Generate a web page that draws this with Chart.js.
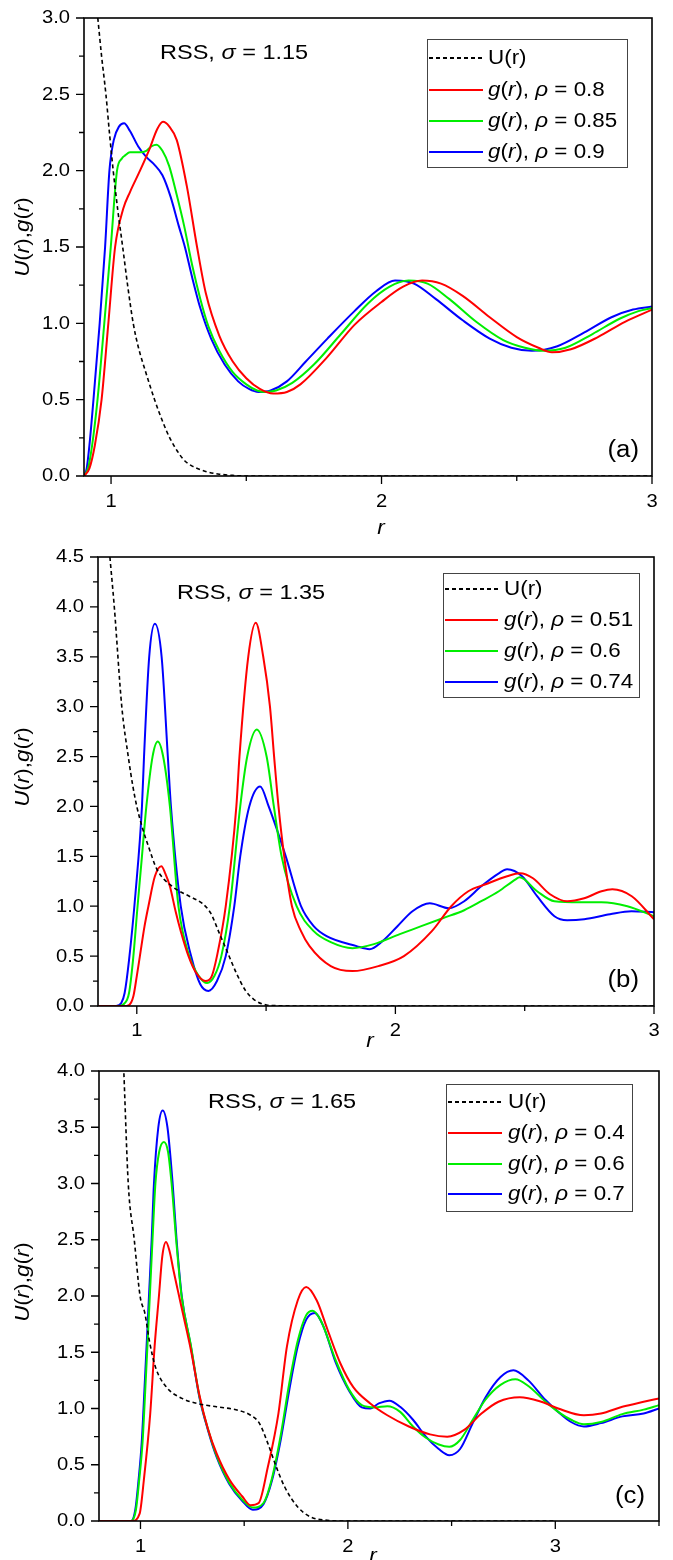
<!DOCTYPE html>
<html><head><meta charset="utf-8">
<script src="https://cdn.jsdelivr.net/npm/chart.js@4.4.1/dist/chart.umd.min.js"></script>
<style>
html,body{margin:0;padding:0;background:#fff;}
body{width:673px;height:1560px;position:relative;overflow:hidden;}
canvas{position:absolute;left:0;}
</style></head><body>
<canvas id="ca"></canvas>
<canvas id="cb"></canvas>
<canvas id="cc"></canvas>
<script>
// ---------- Panel (a): sigma = 1.15 ----------
const aXTicks = [1, 2, 3];
const aYTicks = [0, 0.5, 1.0, 1.5, 2.0, 2.5, 3.0];
const aLegend = ["U(r)", "0.8", "0.85", "0.9"];
const aUX = [0.951,0.965,0.981,0.995,1.008,1.025,1.043,1.062,1.082,1.1,1.13,1.161,1.19,1.217,1.25,1.272,1.3,1.35,1.4,1.45,1.5,2.0,2.5,3.0];
const aUY = [3.0,2.75,2.5,2.23,2.0,1.74,1.5,1.24,1.0,0.85,0.67,0.5,0.36,0.25,0.15,0.1,0.065,0.03,0.012,0.004,0.0,0,0,0];
const aRX = [0.9,0.92,0.94,0.965,0.99,1.015,1.045,1.07,1.107,1.144,1.17,1.192,1.215,1.243,1.28,1.318,1.35,1.4,1.45,1.5,1.55,1.6,1.65,1.7,1.8,1.9,2.0,2.08,2.15,2.22,2.3,2.4,2.5,2.58,2.63,2.7,2.8,2.9,3.0];
const aRY = [0,0.05,0.2,0.5,1.0,1.5,1.75,1.86,2.0,2.15,2.27,2.32,2.29,2.2,1.9,1.5,1.2,0.92,0.75,0.64,0.57,0.54,0.55,0.6,0.78,0.99,1.14,1.24,1.28,1.26,1.18,1.04,0.91,0.84,0.81,0.83,0.91,1.01,1.09];
const aGX = [0.9,0.915,0.93,0.95,0.975,0.999,1.022,1.04,1.052,1.07,1.09,1.11,1.13,1.15,1.168,1.19,1.215,1.243,1.27,1.30,1.33,1.36,1.4,1.45,1.5,1.54,1.57,1.61,1.67,1.75,1.85,1.95,2.03,2.1,2.17,2.25,2.35,2.45,2.53,2.6,2.68,2.78,2.88,2.95,3.0];
const aGY = [0,0.05,0.2,0.5,1.0,1.5,2.0,2.08,2.1,2.12,2.12,2.12,2.13,2.16,2.17,2.13,2.03,1.84,1.64,1.38,1.16,0.98,0.82,0.68,0.6,0.56,0.55,0.56,0.61,0.73,0.93,1.13,1.24,1.28,1.26,1.16,1.01,0.89,0.84,0.82,0.84,0.93,1.03,1.08,1.10];
const aBX = [0.9,0.91,0.92,0.935,0.958,0.978,0.994,1.01,1.03,1.048,1.07,1.1,1.13,1.16,1.19,1.22,1.25,1.273,1.3,1.33,1.37,1.42,1.47,1.51,1.545,1.59,1.65,1.72,1.8,1.9,1.98,2.05,2.12,2.2,2.3,2.4,2.48,2.556,2.65,2.75,2.85,2.93,3.0];
const aBY = [0,0.05,0.2,0.5,1.0,1.5,2.0,2.2,2.29,2.31,2.26,2.16,2.09,2.04,1.97,1.83,1.64,1.5,1.3,1.1,0.9,0.73,0.62,0.57,0.55,0.56,0.62,0.75,0.9,1.08,1.21,1.28,1.26,1.16,1.02,0.9,0.84,0.82,0.85,0.94,1.04,1.09,1.11];

// ---------- Panel (b): sigma = 1.35 ----------
const bXTicks = [1, 2, 3];
const bYTicks = [0, 0.5, 1.0, 1.5, 2.0, 2.5, 3.0, 3.5, 4.0, 4.5];
const bLegend = ["U(r)", "0.51", "0.6", "0.74"];
const bUX = [0.896,0.913,0.942,0.967,0.985,1.0,1.02,1.045,1.078,1.136,1.203,1.252,1.286,1.319,1.352,1.385,1.419,1.452,1.502,1.55,1.635,2.0,2.5,3.0];
const bUY = [4.5,4.0,3.0,2.5,2.2,2.0,1.8,1.6,1.37,1.2,1.1,1.03,0.93,0.73,0.53,0.33,0.16,0.067,0.01,0.003,0,0,0,0];
const bRX = [0.85,0.95,0.97,0.987,1.0,1.012,1.03,1.045,1.07,1.095,1.11,1.128,1.15,1.17,1.2,1.23,1.266,1.29,1.31,1.344,1.385,1.397,1.431,1.46,1.489,1.515,1.531,1.548,1.57,1.60,1.635,1.668,1.75,1.834,1.934,2.033,2.141,2.216,2.282,2.349,2.432,2.482,2.532,2.598,2.664,2.73,2.797,2.839,2.914,3.0];
const bRY = [0,0,0.01,0.1,0.3,0.5,0.8,1.0,1.3,1.40,1.33,1.2,0.95,0.75,0.5,0.33,0.25,0.3,0.5,1.0,2.0,2.5,3.5,3.84,3.5,3.0,2.5,2.0,1.5,1.0,0.75,0.6,0.4,0.35,0.4,0.5,0.75,1.0,1.15,1.22,1.3,1.33,1.28,1.12,1.05,1.08,1.15,1.17,1.1,0.87];
const bGX = [0.85,0.93,0.95,0.97,0.985,1.003,1.02,1.037,1.061,1.081,1.102,1.128,1.161,1.203,1.24,1.272,1.30,1.327,1.36,1.40,1.427,1.464,1.502,1.53,1.56,1.618,1.684,1.75,1.834,1.917,2.017,2.1,2.183,2.266,2.332,2.40,2.465,2.48,2.548,2.615,2.714,2.797,2.897,3.0];
const bGY = [0,0,0.02,0.13,0.45,1.0,1.5,2.0,2.5,2.65,2.5,2.0,1.0,0.5,0.3,0.23,0.3,0.5,1.0,2.0,2.5,2.77,2.5,2.0,1.5,1.0,0.75,0.64,0.58,0.62,0.72,0.8,0.88,0.96,1.05,1.15,1.27,1.29,1.15,1.05,1.04,1.04,1.0,0.9];
const bBX = [0.85,0.92,0.94,0.953,0.97,0.995,1.02,1.028,1.048,1.07,1.096,1.12,1.132,1.17,1.21,1.245,1.277,1.31,1.344,1.377,1.40,1.435,1.477,1.51,1.576,1.635,1.684,1.734,1.85,1.90,1.95,2.008,2.066,2.133,2.207,2.266,2.332,2.40,2.432,2.49,2.548,2.615,2.664,2.73,2.83,2.913,3.0];
const bBY = [0,0,0.03,0.13,0.46,1.13,2.0,2.5,3.5,3.83,3.5,2.5,2.0,1.0,0.5,0.22,0.15,0.25,0.5,1.0,1.5,2.0,2.2,2.0,1.5,1.0,0.8,0.7,0.6,0.57,0.65,0.8,0.95,1.03,0.98,1.05,1.2,1.33,1.37,1.3,1.1,0.9,0.86,0.87,0.92,0.95,0.94];

// ---------- Panel (c): sigma = 1.65 ----------
const cXTicks = [1, 2, 3];
const cYTicks = [0, 0.5, 1.0, 1.5, 2.0, 2.5, 3.0, 3.5, 4.0];
const cLegend = ["U(r)", "0.4", "0.6", "0.7"];
const cUX = [0.92,0.941,0.97,0.998,1.022,1.042,1.072,1.125,1.2,1.284,1.367,1.47,1.531,1.573,1.614,1.655,1.696,1.758,1.82,1.90,1.985,2.5,3.0];
const cUY = [3.98,3.0,2.5,2.0,1.84,1.61,1.37,1.19,1.09,1.04,1.015,0.985,0.94,0.87,0.69,0.48,0.30,0.125,0.036,0.006,0,0,0];
const cRX = [0.8,0.96,0.996,1.016,1.047,1.068,1.089,1.105,1.123,1.14,1.16,1.18,1.21,1.243,1.284,1.325,1.367,1.428,1.49,1.531,1.57,1.614,1.665,1.706,1.758,1.799,1.85,1.902,1.964,2.026,2.108,2.19,2.294,2.396,2.479,2.561,2.644,2.726,2.829,2.932,3.014,3.138,3.22,3.323,3.426,3.5];
const cRY = [0,0,0.065,0.36,0.955,1.55,2.0,2.35,2.48,2.40,2.22,2.05,1.8,1.52,1.12,0.82,0.6,0.37,0.22,0.14,0.16,0.48,0.955,1.55,1.96,2.08,1.96,1.7,1.4,1.19,1.045,0.94,0.84,0.77,0.75,0.81,0.955,1.06,1.10,1.06,1.0,0.94,0.955,1.015,1.06,1.09];
const cGX = [0.8,0.955,0.978,0.993,1.01,1.024,1.036,1.045,1.058,1.072,1.09,1.113,1.133,1.15,1.172,1.198,1.243,1.284,1.325,1.367,1.428,1.49,1.542,1.593,1.634,1.676,1.717,1.758,1.799,1.83,1.87,1.943,2.005,2.067,2.129,2.19,2.252,2.314,2.376,2.438,2.489,2.541,2.602,2.664,2.736,2.808,2.87,2.953,3.014,3.076,3.138,3.22,3.323,3.426,3.5];
const cGY = [0,0,0.1,0.35,0.7,1.2,1.65,2.0,2.5,3.0,3.28,3.37,3.28,3.0,2.5,2.0,1.56,1.11,0.82,0.58,0.34,0.19,0.12,0.16,0.38,0.76,1.22,1.6,1.83,1.87,1.78,1.42,1.17,1.03,1.01,1.02,0.97,0.84,0.74,0.68,0.66,0.72,0.9,1.08,1.21,1.26,1.2,1.06,0.97,0.9,0.86,0.88,0.95,0.99,1.03];
const cBX = [0.8,0.955,0.975,0.99,1.006,1.02,1.032,1.041,1.054,1.065,1.086,1.107,1.13,1.155,1.174,1.199,1.243,1.284,1.325,1.367,1.428,1.49,1.542,1.593,1.634,1.676,1.717,1.758,1.799,1.84,1.882,1.943,2.005,2.067,2.108,2.149,2.2,2.252,2.314,2.376,2.438,2.489,2.541,2.602,2.664,2.736,2.798,2.87,2.953,3.014,3.076,3.138,3.22,3.323,3.426,3.5];
const cBY = [0,0,0.1,0.35,0.7,1.2,1.65,2.0,2.5,3.0,3.5,3.65,3.5,3.0,2.5,2.0,1.55,1.1,0.81,0.57,0.33,0.18,0.1,0.15,0.36,0.72,1.16,1.55,1.79,1.85,1.73,1.4,1.16,1.01,1.0,1.045,1.07,1.015,0.9,0.75,0.64,0.585,0.64,0.87,1.1,1.28,1.34,1.25,1.075,0.97,0.88,0.84,0.87,0.93,0.955,1.0];

// ---------- drawing helpers ----------
const FAM = '"Liberation Sans", Arial, sans-serif';
const SX = 1.12; // horizontal stretch of the reference typeface
function richWidth(ctx, parts, size) {
  let w = 0;
  for (const [t, it] of parts) { ctx.font = (it ? 'italic ' : '') + size + 'px ' + FAM; w += ctx.measureText(t).width; }
  return w;
}
function drawRich(ctx, parts, x, y, size, align) {
  const w = richWidth(ctx, parts, size) * SX;
  const sx = align === 'center' ? x - w / 2 : (align === 'right' ? x - w : x);
  ctx.save();
  ctx.translate(sx, y); ctx.scale(SX, 1);
  ctx.textBaseline = 'middle'; ctx.textAlign = 'left'; ctx.fillStyle = '#000';
  let cx = 0;
  for (const [t, it] of parts) {
    ctx.font = (it ? 'italic ' : '') + size + 'px ' + FAM;
    ctx.fillText(t, cx, 0); cx += ctx.measureText(t).width;
  }
  ctx.restore();
}
const pairs = (xs, ys) => xs.map((x, i) => ({ x: x, y: ys[i] }));

function makePanel(p) {
  const cv = document.getElementById(p.id);
  cv.width = 673; cv.height = p.H;
  cv.style.top = p.top + 'px'; cv.style.width = '673px'; cv.style.height = p.H + 'px';
  const off = p.top;
  const deco = {
    id: 'deco',
    afterDraw(chart) {
      const ctx = chart.ctx, ca = chart.chartArea;
      const xs = chart.scales.x, ys = chart.scales.y;
      ctx.save();
      // frame
      ctx.strokeStyle = '#000'; ctx.lineWidth = 1.6; ctx.setLineDash([]);
      ctx.strokeRect(ca.left, ca.top, ca.right - ca.left, ca.bottom - ca.top);
      // tick marks
      ctx.lineWidth = 1.3;
      ctx.beginPath();
      const yt = p.yTicks;
      for (let i = 0; i < yt.length; i++) {
        const py = ys.getPixelForValue(yt[i]);
        ctx.moveTo(ca.left - 8, py); ctx.lineTo(ca.left, py);
        if (i < yt.length - 1) {
          const my = ys.getPixelForValue((yt[i] + yt[i + 1]) / 2);
          ctx.moveTo(ca.left - 5, my); ctx.lineTo(ca.left, my);
        }
      }
      for (const v of p.xTicks) {
        const px = xs.getPixelForValue(v);
        ctx.moveTo(px, ca.bottom); ctx.lineTo(px, ca.bottom + 8);
      }
      for (const v of p.xMinor) {
        const px = xs.getPixelForValue(v);
        ctx.moveTo(px, ca.bottom); ctx.lineTo(px, ca.bottom + 5);
      }
      ctx.stroke();
      // tick labels
      for (const v of yt) drawRich(ctx, [[v.toFixed(1), false]], ca.left - 14, ys.getPixelForValue(v) + 0.5, 18, 'right');
      for (const v of p.xTicks) drawRich(ctx, [[String(v), false]], xs.getPixelForValue(v), ca.bottom + p.xLabOff, 18, 'center');
      // axis titles
      drawRich(ctx, [['r', true]], p.xTitle[0], p.xTitle[1] - off, 20, 'center');
      ctx.save();
      ctx.translate(23, p.yTitleY - off); ctx.rotate(-Math.PI / 2);
      drawRich(ctx, [['U', true], ['(', false], ['r', true], ['),', false], ['g', true], ['(', false], ['r', true], [')', false]], 0, 0, 20, 'center');
      ctx.restore();
      // annotation + panel letter
      drawRich(ctx, [['RSS, ', false], ['\u03C3', true], [' = ' + p.sigma, false]], p.ann[0], p.ann[1] - off, 21, 'left');
      drawRich(ctx, [[p.letter, false]], p.letterPos[0], p.letterPos[1] - off, 23, 'right');
      // legend
      const L = p.leg;
      ctx.strokeStyle = '#444'; ctx.lineWidth = 1;
      ctx.strokeRect(L.x + 0.5, L.y - off + 0.5, L.w, L.h);
      const cols = ['#000', '#ff0000', '#00ee00', '#0000ff'];
      for (let i = 0; i < 4; i++) {
        const ry = L.rows[i] - off;
        ctx.beginPath();
        ctx.strokeStyle = cols[i]; ctx.lineWidth = 2;
        ctx.setLineDash(i === 0 ? [4, 3] : []);
        ctx.moveTo(L.x + 2, ry); ctx.lineTo(L.lineEnd, ry); ctx.stroke();
        ctx.setLineDash([]);
        if (i === 0) drawRich(ctx, [[p.legend[0], false]], L.textX, ry, 20, 'left');
        else drawRich(ctx, [['g', true], ['(', false], ['r', true], ['), ', false], ['\u03C1', true], [' = ' + p.legend[i], false]], L.textX, ry, 20, 'left');
      }
      ctx.restore();
    }
  };
  return new Chart(cv, {
    type: 'line',
    data: {
      datasets: [
        { data: pairs(p.UX, p.UY), borderColor: '#000', borderWidth: 1.6, borderDash: [4, 3] },
        { data: pairs(p.RX, p.RY), borderColor: '#ff0000' },
        { data: pairs(p.GX, p.GY), borderColor: '#00ee00' },
        { data: pairs(p.BX, p.BY), borderColor: '#0000ff' }
      ]
    },
    options: {
      responsive: false, animation: false, devicePixelRatio: 1,
      layout: { padding: { left: 0, right: 673 - p.area.r, top: p.area.t - off, bottom: 0 } },
      plugins: { legend: { display: false }, tooltip: { enabled: false } },
      elements: { point: { radius: 0 }, line: { borderWidth: 2, cubicInterpolationMode: 'monotone', fill: false } },
      scales: {
        x: {
          type: 'linear', min: p.xMin, max: p.xMax,
          afterBuildTicks: s => { s.ticks = p.xTicks.map(v => ({ value: v })); },
          afterFit: s => { s.height = p.H - (p.area.b - off); },
          grid: { display: false, drawTicks: false }, border: { display: false },
          ticks: { display: false }
        },
        y: {
          type: 'linear', min: 0, max: p.yMax,
          afterBuildTicks: s => { s.ticks = p.yTicks.map(v => ({ value: v })); },
          afterFit: s => { s.width = p.area.l; },
          grid: { display: false, drawTicks: false }, border: { display: false },
          ticks: { display: false }
        }
      }
    },
    plugins: [deco]
  });
}

makePanel({ id: 'ca', top: 0, H: 545, area: { l: 84, r: 652, t: 18, b: 476 },
  xMin: 0.9, xMax: 3, yMax: 3, xTicks: aXTicks, xMinor: [1.5, 2.5], yTicks: aYTicks, xLabOff: 26,
  UX: aUX, UY: aUY, RX: aRX, RY: aRY, GX: aGX, GY: aGY, BX: aBX, BY: aBY,
  xTitle: [381, 528], yTitleY: 237, sigma: '1.15', ann: [160, 53], letter: '(a)', letterPos: [639, 451],
  legend: aLegend, leg: { x: 427, y: 39, w: 200, h: 128, rows: [58, 90, 121, 152], lineEnd: 483, textX: 488 } });

makePanel({ id: 'cb', top: 520, H: 542, area: { l: 98, r: 654, t: 557, b: 1006 },
  xMin: 0.85, xMax: 3, yMax: 4.5, xTicks: bXTicks, xMinor: [1.5, 2.5], yTicks: bYTicks, xLabOff: 25,
  UX: bUX, UY: bUY, RX: bRX, RY: bRY, GX: bGX, GY: bGY, BX: bBX, BY: bBY,
  xTitle: [370, 1041], yTitleY: 767, sigma: '1.35', ann: [177, 593], letter: '(b)', letterPos: [639, 981],
  legend: bLegend, leg: { x: 443, y: 573, w: 196, h: 124, rows: [589, 620, 651, 682], lineEnd: 498, textX: 504 } });

makePanel({ id: 'cc', top: 1040, H: 520, area: { l: 99, r: 659, t: 1071, b: 1521 },
  xMin: 0.8, xMax: 3.5, yMax: 4, xTicks: cXTicks, xMinor: [1.5, 2.5, 3.5], yTicks: cYTicks, xLabOff: 26,
  UX: cUX, UY: cUY, RX: cRX, RY: cRY, GX: cGX, GY: cGY, BX: cBX, BY: cBY,
  xTitle: [373, 1556], yTitleY: 1282, sigma: '1.65', ann: [208, 1102], letter: '(c)', letterPos: [645, 1497],
  legend: cLegend, leg: { x: 446, y: 1084, w: 186, h: 127, rows: [1102, 1133, 1164, 1194], lineEnd: 502, textX: 508 } });
</script>
</body></html>
